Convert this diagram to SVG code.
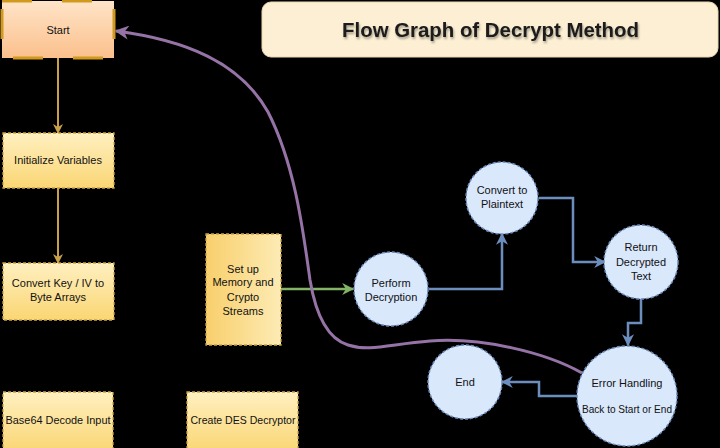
<svg xmlns="http://www.w3.org/2000/svg" width="720" height="448" viewBox="0 0 720 448">
<defs>
<linearGradient id="gStart" x1="0" y1="0" x2="0" y2="1"><stop offset="0" stop-color="#ffe4c8"/><stop offset="1" stop-color="#fbc08c"/></linearGradient>
<linearGradient id="gBox" x1="0" y1="0" x2="0" y2="1"><stop offset="0" stop-color="#fff0c0"/><stop offset="1" stop-color="#fad674"/></linearGradient>
<linearGradient id="gBoxH" x1="0" y1="0" x2="1" y2="0"><stop offset="0" stop-color="#f8cf6c"/><stop offset="1" stop-color="#fdebb4"/></linearGradient>
<filter id="tsh" x="-10%" y="-30%" width="120%" height="160%"><feDropShadow dx="1" dy="2" stdDeviation="1.2" flood-color="#000" flood-opacity="0.35"/></filter>
<marker id="aGold" viewBox="0 0 10 10" refX="9" refY="5" markerWidth="10" markerHeight="10" orient="auto" markerUnits="userSpaceOnUse"><path d="M0,0 L10,5 L0,10 L3,5 z" fill="#c9a04a"/></marker>
<marker id="aBlue" viewBox="0 0 10 10" refX="9" refY="5" markerWidth="12" markerHeight="12" orient="auto" markerUnits="userSpaceOnUse"><path d="M0,0 L10,5 L0,10 L3,5 z" fill="#6c8ebf"/></marker>
<marker id="aGreen" viewBox="0 0 10 10" refX="9" refY="5" markerWidth="12" markerHeight="12" orient="auto" markerUnits="userSpaceOnUse"><path d="M0,0 L10,5 L0,10 L3,5 z" fill="#82b366"/></marker>
<marker id="aPurple" viewBox="0 0 10 10" refX="9" refY="5" markerWidth="14" markerHeight="14" orient="auto" markerUnits="userSpaceOnUse"><path d="M0,0 L10,5 L0,10 L3,5 z" fill="#9673a6"/></marker>
</defs>
<style>
text{font-family:"Liberation Sans",Arial,sans-serif;font-size:11px;fill:#111;text-anchor:middle}
.box{fill:url(#gBox);stroke:#c9a545;stroke-width:1.3;stroke-dasharray:3 2}
.circ{fill:#dae8fc;stroke:#6c8ebf;stroke-width:1.5;stroke-dasharray:3 2}
.blue{fill:none;stroke:#6c8ebf;stroke-width:2.5;marker-end:url(#aBlue)}
.gold{fill:none;stroke:#c9a04a;stroke-width:2;marker-end:url(#aGold)}
</style>
<rect width="720" height="448" fill="#000"/>
<g id="title">
<rect x="262" y="2" width="456" height="55" rx="9" fill="#fcefd3" stroke="#e8d8b0" stroke-width="1"/>
<text x="490.5" y="37" style="font-size:20.4px;font-weight:bold;fill:#1a1a1a" filter="url(#tsh)">Flow Graph of Decrypt Method</text>
</g>
<g id="connectors">
<line class="gold" x1="58" y1="58" x2="58" y2="133"/>
<line class="gold" x1="58" y1="188" x2="58" y2="263"/>
<line x1="281" y1="289" x2="353" y2="289" fill="none" stroke="#82b366" stroke-width="2.5" marker-end="url(#aGreen)"/>
<path class="blue" d="M429,289 H502 V234"/>
<path class="blue" d="M539,198 H573 V262 H605"/>
<path class="blue" d="M641,299 V323 H628 V345"/>
<path class="blue" d="M577,396 H539 V382 H502"/>
<path d="M582,373 C545,352 480,337 430,341 C390,344 370,352 348,345 C325,338 315,310 310,280 C303,230 295,165 268,112 C240,62 185,40 116,31" fill="none" stroke="#9673a6" stroke-width="3" marker-end="url(#aPurple)"/>
</g>
<g id="start">
<rect x="2" y="1" width="112" height="57" fill="url(#gStart)" stroke="#d09a1e" stroke-width="3" stroke-dasharray="30 30"/>
<text x="58" y="34">Start</text>
</g>
<g id="init">
<rect class="box" x="3" y="133" width="111" height="55"/>
<text x="58" y="164">Initialize Variables</text>
</g>
<g id="convertKey">
<rect class="box" x="3" y="263" width="111" height="57"/>
<text x="58" y="287">Convert Key / IV to</text>
<text x="58" y="301">Byte Arrays</text>
</g>
<g id="base64">
<rect class="box" x="3" y="392" width="110" height="60"/>
<text x="58" y="424" textLength="105" lengthAdjust="spacingAndGlyphs">Base64 Decode Input</text>
</g>
<g id="createDes">
<rect class="box" x="187" y="392" width="111" height="60"/>
<text x="243" y="424" textLength="105" lengthAdjust="spacingAndGlyphs">Create DES Decryptor</text>
</g>
<g id="setup">
<rect x="206" y="234" width="75" height="111" fill="url(#gBoxH)" stroke="#c9a545" stroke-width="1.3" stroke-dasharray="3 2"/>
<text x="243" y="273">Set up</text>
<text x="243" y="286">Memory and</text>
<text x="243" y="301">Crypto</text>
<text x="243" y="315">Streams</text>
</g>
<g id="perform">
<circle class="circ" cx="391" cy="289" r="37"/>
<text x="391" y="287">Perform</text>
<text x="391" y="301">Decryption</text>
</g>
<g id="plaintext">
<circle class="circ" cx="502" cy="198" r="36"/>
<text x="502" y="194">Convert to</text>
<text x="502" y="208">Plaintext</text>
</g>
<g id="return">
<circle class="circ" cx="641" cy="262" r="37"/>
<text x="641" y="251">Return</text>
<text x="641" y="266">Decrypted</text>
<text x="641" y="280">Text</text>
</g>
<g id="error">
<circle class="circ" cx="627" cy="396" r="50"/>
<text x="627" y="387">Error Handling</text>
<text x="627" y="413" textLength="90" lengthAdjust="spacingAndGlyphs">Back to Start or End</text>
</g>
<g id="end">
<circle class="circ" cx="465" cy="382" r="37"/>
<text x="465" y="386">End</text>
</g>
</svg>
